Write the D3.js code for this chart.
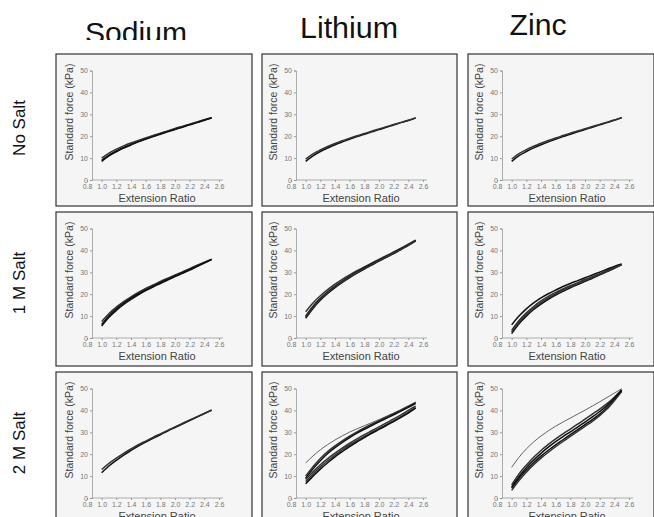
<!DOCTYPE html>
<html><head><meta charset="utf-8">
<script src="https://cdn.jsdelivr.net/npm/d3@7"></script>
<style>html,body{margin:0;padding:0;background:#fff;}svg{display:block;}</style>
</head><body>
<svg id="chart" width="654" height="517"></svg>
<script>
// ---------- data ----------
const metals = ["Sodium", "Lithium", "Zinc"];
const salts = ["No Salt", "1 M Salt", "2 M Salt"];
const xTicks = [0.8, 1.0, 1.2, 1.4, 1.6, 1.8, 2.0, 2.2, 2.4, 2.6];
const yTicks = [0, 10, 20, 30, 40, 50];
const xLabel = "Extension Ratio";
const yLabel = "Standard force (kPa)";
const extension = [1.0, 1.1, 1.2, 1.3, 1.4, 1.5, 1.6, 1.7, 1.8, 1.9, 2.0, 2.1, 2.2, 2.3, 2.4, 2.5];

const sodiumNoSalt = [
  [9.0, 11.4, 13.3, 14.9, 16.3, 17.6, 18.8, 20.0, 21.1, 22.2, 23.3, 24.3, 25.3, 26.4, 27.4, 28.5],
  [10.0, 12.3, 14.1, 15.6, 16.9, 18.1, 19.2, 20.3, 21.4, 22.4, 23.5, 24.5, 25.5, 26.5, 27.5, 28.4],
  [8.5, 11.0, 12.9, 14.6, 16.0, 17.4, 18.6, 19.8, 20.9, 22.0, 23.1, 24.1, 25.2, 26.2, 27.3, 28.3]
];
const lithiumNoSalt = [
  [8.5, 11.0, 13.0, 14.6, 16.1, 17.4, 18.6, 19.8, 20.9, 22.0, 23.0, 24.1, 25.1, 26.2, 27.2, 28.3],
  [9.5, 11.9, 13.7, 15.3, 16.7, 17.9, 19.1, 20.2, 21.2, 22.3, 23.3, 24.3, 25.3, 26.3, 27.3, 28.4]
];
const zincNoSalt = [
  [8.5, 11.1, 13.0, 14.7, 16.1, 17.4, 18.6, 19.8, 20.9, 22.0, 23.1, 24.1, 25.2, 26.2, 27.3, 28.4],
  [9.6, 12.0, 13.9, 15.4, 16.8, 18.0, 19.2, 20.3, 21.4, 22.4, 23.4, 24.4, 25.4, 26.4, 27.4, 28.5]
];
const sodium1M = [
  [5.5, 9.5, 12.6, 15.3, 17.6, 19.7, 21.6, 23.3, 24.9, 26.5, 28.0, 29.5, 31.0, 32.6, 34.2, 35.8],
  [7.5, 11.2, 14.1, 16.6, 18.8, 20.8, 22.6, 24.2, 25.8, 27.3, 28.8, 30.2, 31.7, 33.2, 34.6, 36.0],
  [6.2, 10.2, 13.3, 15.9, 18.2, 20.2, 22.0, 23.7, 25.3, 26.8, 28.3, 29.8, 31.3, 32.8, 34.4, 35.9]
];
const lithium1M = [
  [9.0, 13.5, 17.2, 20.3, 23.0, 25.4, 27.6, 29.6, 31.5, 33.3, 35.1, 36.8, 38.5, 40.4, 42.3, 44.4],
  [12.0, 16.0, 19.3, 22.1, 24.6, 26.8, 28.8, 30.7, 32.5, 34.2, 35.9, 37.6, 39.3, 41.0, 42.8, 44.7],
  [10.0, 14.5, 18.1, 21.1, 23.7, 26.0, 28.1, 30.1, 32.0, 33.8, 35.5, 37.2, 38.9, 40.7, 42.5, 44.5],
  [9.5, 14.0, 17.6, 20.7, 23.4, 25.7, 27.9, 29.9, 31.7, 33.5, 35.3, 37.0, 38.7, 40.5, 42.4, 44.4]
];
const zinc1M = [
  [2.0, 6.5, 10.0, 13.0, 15.5, 17.7, 19.6, 21.3, 22.9, 24.4, 25.9, 27.3, 28.8, 30.3, 31.8, 33.4],
  [3.5, 8.0, 11.5, 14.4, 16.9, 19.0, 20.8, 22.4, 23.9, 25.3, 26.7, 28.0, 29.4, 30.8, 32.2, 33.6],
  [6.0, 10.0, 13.3, 16.0, 18.3, 20.2, 21.9, 23.5, 24.9, 26.2, 27.5, 28.8, 30.1, 31.4, 32.7, 33.8],
  [2.8, 7.2, 10.8, 13.7, 16.2, 18.3, 20.2, 21.9, 23.4, 24.8, 26.2, 27.6, 29.0, 30.5, 32.0, 33.5]
];
const sodium2M = [
  [11.5, 14.6, 17.2, 19.6, 21.7, 23.7, 25.5, 27.2, 28.9, 30.6, 32.2, 33.8, 35.4, 37.0, 38.6, 40.2],
  [13.0, 15.8, 18.2, 20.4, 22.4, 24.3, 26.0, 27.7, 29.3, 30.9, 32.5, 34.0, 35.6, 37.1, 38.6, 40.0]
];
const lithium2M = [
  [16.0, 19.2, 22.0, 24.4, 26.5, 28.4, 30.1, 31.6, 33.0, 34.4, 35.8, 37.3, 38.8, 40.4, 42.1, 43.8],
  [10.0, 14.3, 18.0, 21.2, 23.8, 26.1, 28.2, 30.2, 32.0, 33.7, 35.3, 36.9, 38.5, 40.1, 41.8, 43.6],
  [9.0, 13.3, 17.0, 20.3, 23.0, 25.4, 27.6, 29.6, 31.4, 33.1, 34.8, 36.4, 38.0, 39.7, 41.4, 43.2],
  [7.5, 11.0, 14.2, 17.0, 19.6, 22.0, 24.2, 26.2, 28.1, 29.9, 31.7, 33.5, 35.3, 37.2, 39.2, 41.3],
  [6.5, 10.0, 13.2, 16.1, 18.8, 21.2, 23.5, 25.6, 27.6, 29.5, 31.3, 33.1, 34.9, 36.8, 38.8, 41.0],
  [8.5, 12.0, 15.2, 18.0, 20.5, 22.8, 25.0, 27.0, 28.9, 30.7, 32.5, 34.3, 36.1, 38.0, 40.0, 42.0]
];
const zinc2M = [
  [14.0, 18.6, 22.4, 25.6, 28.3, 30.7, 32.8, 34.7, 36.5, 38.3, 40.1, 42.0, 43.9, 45.9, 47.9, 49.9],
  [6.0, 11.0, 15.0, 18.6, 21.7, 24.5, 27.0, 29.3, 31.5, 33.7, 36.0, 38.3, 40.6, 43.1, 46.0, 49.4],
  [4.5, 9.0, 12.8, 16.1, 19.1, 21.8, 24.3, 26.6, 28.9, 31.2, 33.5, 35.8, 38.3, 41.2, 44.9, 49.0],
  [3.5, 8.0, 11.8, 15.2, 18.2, 20.9, 23.4, 25.8, 28.1, 30.4, 32.7, 35.0, 37.6, 40.6, 44.4, 48.6],
  [5.0, 9.8, 13.8, 17.3, 20.4, 23.2, 25.7, 28.0, 30.2, 32.4, 34.7, 37.0, 39.5, 42.2, 45.5, 49.2]
];
const panelData = [
  [sodiumNoSalt, lithiumNoSalt, zincNoSalt],
  [sodium1M, lithium1M, zinc1M],
  [sodium2M, lithium2M, zinc2M]
];
// index of the lone replicate drawn thin and light in each panel (-1: none)
const thinCurve = [[-1, -1, -1], [-1, -1, -1], [-1, 0, 0]];

// ---------- layout ----------
const colX = [56, 262, 468], colW = [196, 195, 186];
const rowY = [54, 212, 372], rowH = [152, 154, 150];
const axisOff = [36, 34, 34];
const titleX = [136, 349, 538], titleY = [43, 37.5, 35], titleLen = [102, 98, 57];
const rowLabelY = [128, 283, 443];

const svg = d3.select("#chart");
const defs = svg.append("defs");
const font = "'Liberation Sans', Arial, sans-serif";

// column titles
defs.append("clipPath").attr("id", "titleClip")
  .append("rect").attr("x", 0).attr("y", 0).attr("width", 654).attr("height", 40);
metals.forEach((m, i) => {
  svg.append("text")
    .attr("x", titleX[i]).attr("y", titleY[i])
    .attr("text-anchor", "middle")
    .attr("clip-path", i === 0 ? "url(#titleClip)" : null)
    .attr("textLength", titleLen[i]).attr("lengthAdjust", "spacingAndGlyphs")
    .style("font-family", font)
    .style("font-size", "30px").style("fill", "#111")
    .text(m);
});

// row labels
salts.forEach((s, i) => {
  svg.append("text")
    .attr("transform", `translate(25,${rowLabelY[i]}) rotate(-90)`)
    .attr("text-anchor", "middle")
    .style("font-family", font)
    .style("font-size", "17px").style("fill", "#111")
    .text(s);
});

const line = d3.line().curve(d3.curveMonotoneX);

salts.forEach((s, r) => {
  metals.forEach((m, c) => {
    const x0 = colX[c], y0 = rowY[r], w = colW[c], h = rowH[r];
    const ax = axisOff[c];
    const id = `clip${r}${c}`;
    defs.append("clipPath").attr("id", id)
      .append("rect").attr("x", 0).attr("y", 0).attr("width", w).attr("height", h);
    const g = svg.append("g").attr("transform", `translate(${x0},${y0})`);
    g.append("rect").attr("width", w).attr("height", h).attr("fill", "#f5f5f5");
    const inner = g.append("g").attr("clip-path", `url(#${id})`);

    const x = d3.scaleLinear().domain([0.8, 2.6]).range([ax - 5, ax - 5 + 132]);
    const y = d3.scaleLinear().domain([0, 50]).range([126, 16.5]);

    const yAxis = d3.axisLeft(y).tickValues(yTicks).tickSize(2).tickPadding(2);
    const ya = inner.append("g").attr("transform", `translate(${ax},0)`).call(yAxis);
    const xAxis = d3.axisBottom(x).tickValues(xTicks).tickFormat(d3.format(".1f")).tickSize(2).tickPadding(2);
    const xa = inner.append("g").attr("transform", `translate(0,${y(0)})`).call(xAxis);
    [ya, xa].forEach(a => {
      a.select(".domain").attr("stroke", "#999").attr("stroke-width", 0.8);
      a.selectAll(".tick line").attr("stroke", "#888").attr("stroke-width", 0.8);
      a.selectAll(".tick text").style("font-family", font)
        .style("font-size", "7px").attr("fill", "#777");
    });
    xa.select(".domain").attr("d", `M${ax},0H${x(2.6) + 4}`);

    inner.append("text")
      .attr("transform", `translate(${ax - 19},58) rotate(-90)`)
      .attr("text-anchor", "middle")
      .style("font-family", font)
      .style("font-size", "10.5px").style("fill", "#444")
      .text(yLabel);
    inner.append("text")
      .attr("x", x(1.7) + 4).attr("y", 148)
      .attr("text-anchor", "middle")
      .style("font-family", font)
      .style("font-size", "11px").style("fill", "#444")
      .text(xLabel);

    panelData[r][c].forEach((series, k) => {
      const thin = thinCurve[r][c] === k;
      inner.append("path")
        .attr("d", line(series.map((v, i) => [x(extension[i]), y(v)])))
        .attr("fill", "none")
        .attr("stroke", thin ? "#555" : (k % 2 ? "#333" : "#111"))
        .attr("stroke-width", thin ? 0.9 : 1.5);
    });

    g.append("rect").attr("width", w).attr("height", h)
      .attr("fill", "none").attr("stroke", "#333").attr("stroke-width", 1.2);
  });
});
</script>
</body></html>
